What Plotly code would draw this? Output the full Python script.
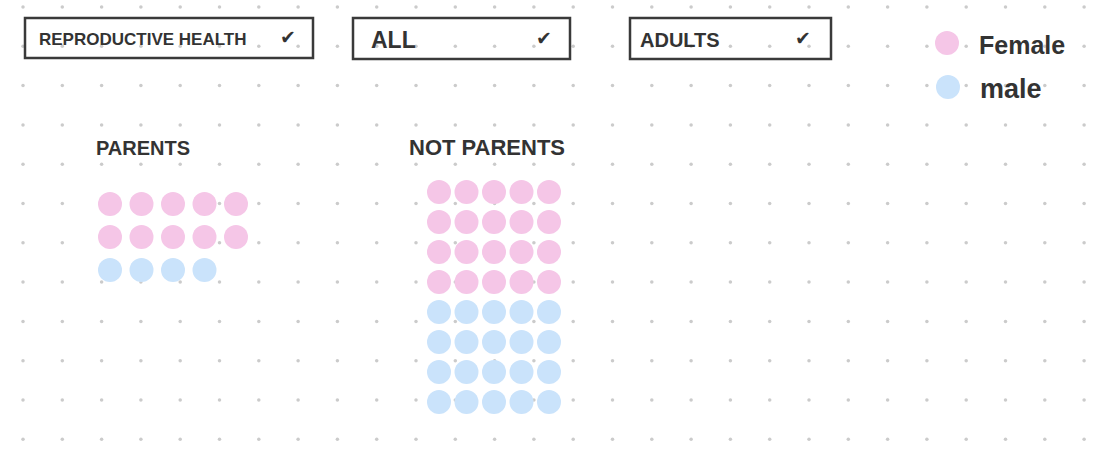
import math
import plotly.graph_objects as go

# ---------------- data ----------------
groups = ["PARENTS", "NOT PARENTS"]
female_counts = [10, 20]
male_counts = [4, 20]
legend_labels = ["Female", "male"]
filter_labels = ["REPRODUCTIVE HEALTH", "ALL", "ADULTS"]

# ---------------- style / layout constants ----------------
W, H = 1100, 452
PINK = "#F5C6E7"
BLUE = "#CAE3FB"
INK = "#333333"
FONT = "Liberation Sans, Arial, sans-serif"
COLS = 5

# waffle placement per group: (x0, y0, dx, dy)
group_layout = [
    (110, 204, 31.5, 33.0),
    (439, 192, 27.5, 30.0),
]
label_pos = [(94, 148, 20), (407, 147, 22)]

fig = go.Figure()

# background dotted paper
gx = [23 + 39.3 * k for k in range(28)]
gy = [7 + 39.3 * j for j in range(12)]
bx, by = [], []
for yy in gy:
    for xx in gx:
        bx.append(xx)
        by.append(yy)
fig.add_trace(go.Scatter(x=bx, y=by, mode="markers",
                         marker=dict(size=3.5, color="#CBCBCB"),
                         hoverinfo="skip", showlegend=False))

# waffles
for gi, name in enumerate(groups):
    x0, y0, dx, dy = group_layout[gi]
    nf, nm = female_counts[gi], male_counts[gi]
    for sex, n, color, row_off in [("Female", nf, PINK, 0),
                                   ("male", nm, BLUE, math.ceil(nf / COLS))]:
        xs = [x0 + (i % COLS) * dx for i in range(n)]
        ys = [y0 + (row_off + i // COLS) * dy for i in range(n)]
        fig.add_trace(go.Scatter(x=xs, y=ys, mode="markers",
                                 marker=dict(size=24, color=color, line=dict(width=0)),
                                 name=sex, showlegend=False,
                                 hovertemplate=f"{name} – {sex}: {n}<extra></extra>"))
    lx, ly, fs = label_pos[gi]
    fig.add_annotation(x=lx, y=ly, text=f"<b>{name}</b>", showarrow=False,
                       xanchor="left", yanchor="middle",
                       font=dict(family=FONT, size=fs, color=INK))

# legend (hand drawn style)
leg_pos = [(947, 43), (948, 87)]
leg_colors = [PINK, BLUE]
fig.add_trace(go.Scatter(x=[p[0] for p in leg_pos], y=[p[1] for p in leg_pos],
                         mode="markers", marker=dict(size=24, color=leg_colors),
                         hoverinfo="skip", showlegend=False))
for (px, py), lab, fs in zip(leg_pos, legend_labels, [25, 27]):
    fig.add_annotation(x=px + 30, y=py + 2, text=f"<b>{lab}</b>", showarrow=False,
                       xanchor="left", yanchor="middle",
                       font=dict(family=FONT, size=fs, color=INK))

# dropdown boxes: (x0, y0, x1, y1, text_x, font_size, check_x)
boxes = [(25, 18, 313, 58, 37, 17, 288),
         (353, 18, 570, 59, 369, 23, 544),
         (630, 18, 831, 59, 638, 20, 803)]
for (x1, y1, x2, y2, tx, fs, cx), lab in zip(boxes, filter_labels):
    fig.add_shape(type="rect", x0=x1, y0=y1, x1=x2, y1=y2,
                  line=dict(color="#3A3A3A", width=2.5), fillcolor="rgba(0,0,0,0)")
    fig.add_annotation(x=tx, y=(y1 + y2) / 2 + 1, text=f"<b>{lab}</b>", showarrow=False,
                       xanchor="left", yanchor="middle",
                       font=dict(family=FONT, size=fs, color=INK))
    fig.add_annotation(x=cx, y=(y1 + y2) / 2 - 1, text="✔", showarrow=False,
                       xanchor="center", yanchor="middle",
                       font=dict(family="DejaVu Sans", size=19, color=INK))

fig.update_layout(
    width=W, height=H,
    margin=dict(l=0, r=0, t=0, b=0),
    paper_bgcolor="white", plot_bgcolor="white",
    xaxis=dict(range=[0, W], visible=False, fixedrange=True),
    yaxis=dict(range=[H, 0], visible=False, fixedrange=True),
    showlegend=False,
)

fig.write_html("out.html")
